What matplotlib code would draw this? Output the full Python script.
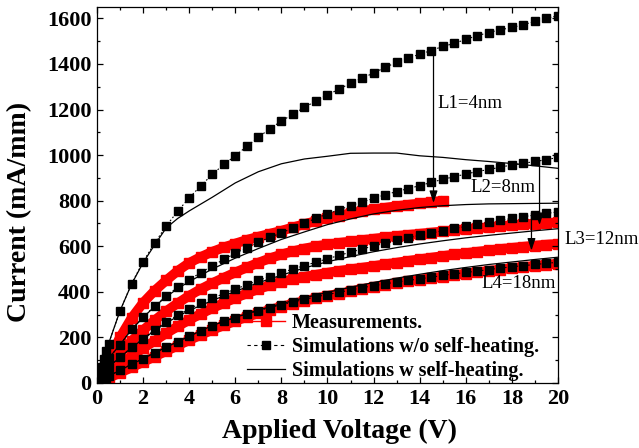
import matplotlib
matplotlib.use("Agg")
import matplotlib.pyplot as plt
from matplotlib.lines import Line2D
from matplotlib.ticker import MultipleLocator

# applied voltage grids (V)
v_sim = [0, 0.1, 0.2, 0.3, 0.4, 0.5, 1.0, 1.5, 2.0, 2.5, 3.0, 3.5, 4.0, 4.5, 5.0,
         5.5, 6.0, 6.5, 7.0, 7.5, 8.0, 8.5, 9.0, 9.5, 10.0, 10.5, 11.0, 11.5, 12.0,
         12.5, 13.0, 13.5, 14.0, 14.5, 15.0, 15.5, 16.0, 16.5, 17.0, 17.5, 18.0,
         18.5, 19.0, 19.5, 20.0]
v_sh = [0, 0.5, 1, 1.5, 2, 2.5, 3, 3.5, 4, 5, 6, 7, 8, 9, 10, 11, 12, 13, 14,
        15, 16, 17, 18, 19, 20]
v_meas = [0, 0.5, 1.0, 1.5, 2.0, 2.5, 3.0, 3.5, 4.0, 4.5, 5.0, 5.5, 6.0, 6.5,
          7.0, 7.5, 8.0, 8.5, 9.0, 9.5, 10.0, 10.5, 11.0, 11.5, 12.0, 12.5, 13.0,
          13.5, 14.0, 14.5, 15.0, 15.5, 16.0, 16.5, 17.0, 17.5, 18.0, 18.5, 19.0,
          19.5, 20.0]

# simulations without self-heating (mA/mm)
l1_sim = [0, 35, 70, 105, 140, 172, 317, 436, 532, 614, 688, 754, 812, 865, 915,
          959, 997, 1039, 1078, 1116, 1149, 1180, 1209, 1238, 1265, 1289, 1316,
          1338, 1360, 1385, 1407, 1427, 1442, 1459, 1477, 1490, 1508, 1524, 1538,
          1550, 1560, 1572, 1587, 1600, 1612]
l2_sim = [0, 22, 45, 66, 88, 108, 168, 235, 288, 338, 382, 420, 454, 484, 514,
          542, 569, 594, 617, 639, 659, 680, 702, 722, 742, 760, 778, 794, 810,
          826, 840, 853, 866, 880, 894, 905, 917, 928, 937, 947, 957, 964, 972,
          980, 990]
l3_sim = [0, 14, 29, 43, 57, 70, 113, 156, 195, 233, 268, 298, 325, 350, 372,
          392, 412, 431, 450, 467, 484, 500, 515, 530, 545, 560, 574, 588, 601,
          614, 626, 637, 648, 658, 668, 678, 687, 696, 705, 714, 722, 730, 737,
          744, 751]
l4_sim = [0, 6, 12, 18, 24, 30, 56, 82, 107, 132, 157, 181, 205, 229, 252, 270,
          287, 303, 317, 331, 343, 355, 367, 378, 388, 398, 408, 418, 427, 435,
          443, 450, 457, 464, 472, 479, 485, 491, 498, 504, 510, 515, 520, 525,
          530]

# simulations with self-heating
l1_sh = [0, 172, 317, 434, 528, 606, 680, 722, 755, 815, 878, 927, 962, 983,
         995, 1008, 1009, 1009, 997, 990, 980, 972, 963, 953, 942]
l2_sh = [0, 108, 168, 235, 287, 336, 378, 414, 445, 500, 548, 590, 630, 663,
         695, 720, 742, 758, 770, 778, 783, 786, 787, 788, 789]
l3_sh = [0, 70, 113, 155, 193, 230, 263, 292, 318, 362, 402, 440, 473, 505,
         532, 555, 576, 594, 610, 624, 637, 648, 658, 668, 677]
l4_sh = [0, 30, 56, 82, 107, 132, 157, 181, 205, 252, 288, 320, 348, 374, 398,
         420, 441, 460, 477, 493, 507, 520, 531, 542, 552]

# measurements (L1 stops at 15 V)
l1_meas = [0, 105, 200, 285, 352, 405, 450, 492, 527, 553, 576, 595, 612, 628,
           642, 655, 668, 683, 697, 711, 724, 735, 745, 754, 762, 769, 776, 782,
           788, 794, 800]
l2_meas = [0, 70, 130, 185, 232, 275, 315, 350, 383, 412, 438, 462, 485, 507,
           528, 547, 564, 578, 590, 600, 608, 615, 621, 627, 633, 639, 645, 650,
           655, 660, 665, 670, 675, 679, 684, 688, 692, 696, 699, 702, 705]
l3_meas = [0, 40, 80, 118, 152, 185, 218, 248, 277, 303, 328, 351, 373, 393, 412,
           429, 445, 456, 466, 475, 484, 492, 499, 506, 513, 521, 528, 536, 543,
           550, 557, 564, 570, 576, 582, 588, 593, 598, 603, 607, 611]
l4_meas = [0, 22, 45, 68, 92, 116, 140, 164, 188, 211, 233, 253, 272, 290, 306,
           321, 335, 348, 360, 371, 382, 392, 402, 412, 421, 430, 438, 446, 453,
           460, 467, 474, 480, 486, 492, 498, 504, 509, 514, 519, 524]

plt.rcParams['font.family'] = ['Liberation Serif', 'DejaVu Serif']

fig = plt.figure(figsize=(6.39, 4.48), dpi=100)
ax = fig.add_axes([0.1518, 0.1451, 0.7214, 0.8393])

# measurement bands
for ys in [l1_meas, l2_meas, l3_meas, l4_meas]:
    ax.plot(v_meas[:len(ys)], ys, color='red', lw=7, marker='s', ms=7.5,
            mec='red', solid_capstyle='butt', zorder=1)

# self-heating simulations
for ys in [l1_sh, l2_sh, l3_sh, l4_sh]:
    ax.plot(v_sh, ys, color='black', lw=0.9, zorder=2)

# simulations w/o self-heating
for ys in [l1_sim, l2_sim, l3_sim, l4_sim]:
    ax.plot(v_sim, ys, color='black', lw=0.8, ls=(0, (1.5, 2)), marker='s',
            ms=5.5, zorder=3)

ax.set_xlim(0, 20)
ax.set_ylim(0, 1650)
ax.xaxis.set_major_locator(MultipleLocator(2))
ax.xaxis.set_minor_locator(MultipleLocator(1))
ax.yaxis.set_major_locator(MultipleLocator(200))
ax.yaxis.set_minor_locator(MultipleLocator(100))
ax.tick_params(which='both', direction='in', top=True, right=True, width=0.9)
ax.tick_params(which='major', length=4, labelsize=16, pad=4)
ax.tick_params(which='minor', length=2.5)
for lab in ax.get_xticklabels() + ax.get_yticklabels():
    lab.set_fontweight('bold')
for sp in ax.spines.values():
    sp.set_linewidth(0.9)

ax.set_xlabel('Applied Voltage (V)', fontsize=20, fontweight='bold')
ax.set_ylabel('Current (mA/mm)', fontsize=20, fontweight='bold')
ax.xaxis.set_label_coords(0.525, -0.095)
ax.yaxis.set_label_coords(-0.14, 0.455)

# arrows from w/o self-heating to measurement
arrows = [(14.6, 1459, 790), (19.2, 978, 693), (18.85, 746, 581)]
for x, y0, y1 in arrows:
    ax.annotate('', xy=(x, y1), xytext=(x, y0),
                arrowprops=dict(arrowstyle='-|>,head_length=0.6,head_width=0.2',
                                color='black', lw=0.9, mutation_scale=12,
                                shrinkA=0, shrinkB=0), zorder=4)

ax.text(14.79, 1226, 'L1=4nm', fontsize=13.5, va='center', ha='left')
ax.text(16.21, 856, 'L2=8nm', fontsize=13.5, va='center', ha='left')
ax.text(20.3, 631, 'L3=12nm', fontsize=13.5, va='center', ha='left', clip_on=False)
ax.text(16.69, 437, 'L4=18nm', fontsize=13.5, va='center', ha='left')

handles = [
    Line2D([], [], color='red', lw=1, marker='s', ms=6.5),
    Line2D([], [], color='black', lw=0.8, ls=(0, (3, 3)), marker='s', ms=5.5),
    Line2D([], [], color='black', lw=0.9),
]
labels = ['Measurements.', 'Simulations w/o self-heating.', 'Simulations w self-heating.']
ax.legend(handles, labels, loc='lower left', bbox_to_anchor=(0.325, 0.005),
          frameon=False, prop={'weight': 'bold', 'size': 14.5},
          handlelength=1.9, handletextpad=0.35, labelspacing=0.2,
          borderpad=0, borderaxespad=0)

fig.savefig('out.png', dpi=100)
